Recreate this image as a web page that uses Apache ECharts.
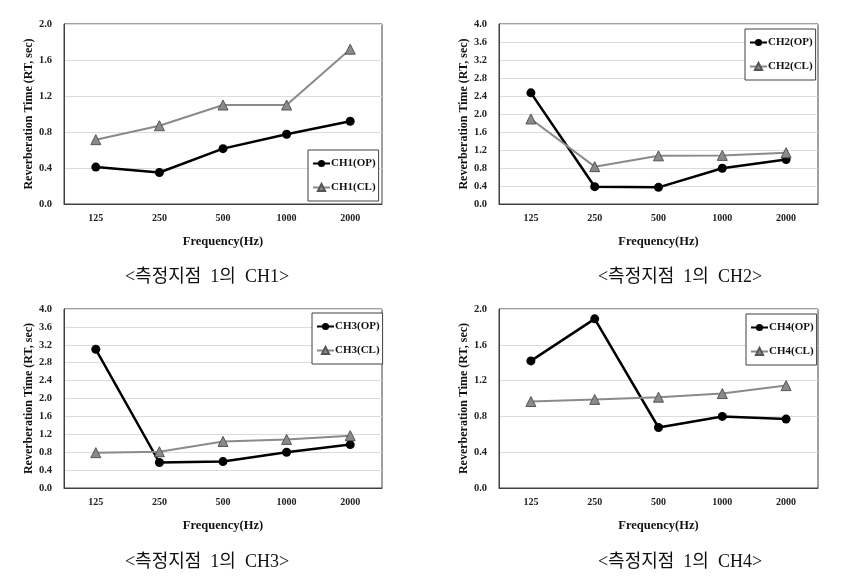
<!DOCTYPE html>
<html><head><meta charset="utf-8">
<script src="https://cdn.jsdelivr.net/npm/echarts@6/dist/echarts.min.js"></script>
<style>html,body{margin:0;padding:0;background:#fff}#c{width:841px;height:580px}</style>
</head><body><div id="c"></div>
<script>
const categories = ['125', '250', '500', '1000', '2000'];
const ch1OP = [0.41, 0.35, 0.615, 0.775, 0.92];
const ch1CL = [0.715, 0.87, 1.10, 1.10, 1.72];
const ch2OP = [2.47, 0.385, 0.37, 0.795, 0.99];
const ch2CL = [1.89, 0.83, 1.07, 1.08, 1.14];
const ch3OP = [3.10, 0.57, 0.59, 0.80, 0.97];
const ch3CL = [0.79, 0.81, 1.04, 1.085, 1.17];
const ch4OP = [1.42, 1.89, 0.676, 0.80, 0.77];
const ch4CL = [0.966, 0.99, 1.015, 1.055, 1.144];
const yMax = [2.0, 4.0, 4.0, 2.0];
const yInterval = 0.4;
const seriesNames = [['CH1(OP)', 'CH1(CL)'], ['CH2(OP)', 'CH2(CL)'], ['CH3(OP)', 'CH3(CL)'], ['CH4(OP)', 'CH4(CL)']];
const captions = ['<측정지점  1의  CH1>', '<측정지점  1의  CH2>', '<측정지점  1의  CH3>', '<측정지점  1의  CH4>'];
const xName = 'Frequency(Hz)';
const yName = 'Reverberation Time (RT, sec)';

const opData = [ch1OP, ch2OP, ch3OP, ch4OP];
const clData = [ch1CL, ch2CL, ch3CL, ch4CL];

const grids = [
  {left: 64, top: 24, width: 318, height: 180},
  {left: 499, top: 24, width: 319, height: 180},
  {left: 64, top: 309, width: 318, height: 179},
  {left: 499, top: 309, width: 319, height: 179}
];
const legendPos = [
  {left: 308, top: 150},
  {left: 745, top: 29},
  {left: 312, top: 313},
  {left: 746, top: 314}
];
const captionPos = [
  {x: 207, y: 277}, {x: 680, y: 277}, {x: 207, y: 562}, {x: 680, y: 562}
];
const serif = '"Liberation Serif", "Times New Roman", serif';

const chart = echarts.init(document.getElementById('c'), null, {renderer: 'canvas'});
const option = {
  animation: false,
  backgroundColor: '#fff',
  grid: grids.map(g => Object.assign({show: true, borderColor: '#404040', borderWidth: 1, backgroundColor: 'transparent'}, g)),
  xAxis: grids.map((g, i) => ({
    type: 'category', gridIndex: i, data: categories, boundaryGap: true,
    axisLine: {show: true, lineStyle: {color: '#404040', width: 1}},
    axisTick: {show: false},
    axisLabel: {fontFamily: serif, fontWeight: 'bold', fontSize: 10, color: '#222', margin: 9},
    name: xName, nameLocation: 'middle', nameGap: 31,
    nameTextStyle: {fontFamily: serif, fontWeight: 'bold', fontSize: 12.5, color: '#111'}
  })),
  yAxis: grids.map((g, i) => ({
    type: 'value', gridIndex: i, min: 0, max: yMax[i], interval: yInterval,
    axisLine: {show: true, lineStyle: {color: '#404040', width: 1}},
    axisTick: {show: false},
    splitLine: {show: true, lineStyle: {color: '#dcdcdc', width: 1}},
    axisLabel: {fontFamily: serif, fontWeight: 'bold', fontSize: 10.5, color: '#222', margin: 12,
      formatter: v => v.toFixed(1)},
    name: yName, nameLocation: 'middle', nameGap: 24, nameRotate: 90,
    nameTextStyle: {fontFamily: serif, fontWeight: 'bold', fontSize: 12, color: '#111'}
  })),
  legend: legendPos.map((p, i) => ({
    left: p.left, top: p.top, orient: 'vertical',
    data: seriesNames[i],
    borderColor: '#404040', borderWidth: 1, padding: [8, 3, 8, 4],
    itemGap: 13, itemWidth: 17, itemHeight: 9,
    textStyle: {fontFamily: serif, fontWeight: 'bold', fontSize: 11, color: '#111', padding: [0, 0, 0, -4]},
    backgroundColor: '#fff'
  })),
  title: captions.map((t, i) => ({
    text: t, left: captionPos[i].x, top: captionPos[i].y, textAlign: 'center', textVerticalAlign: 'middle',
    padding: 0,
    textStyle: {fontFamily: '"Liberation Serif", "Noto Sans CJK KR", serif', fontWeight: 'normal', fontSize: 18, color: '#111'}
  })),
  series: []
};
for (let i = 0; i < 4; i++) {
  option.series.push({
    type: 'line', name: seriesNames[i][0], xAxisIndex: i, yAxisIndex: i, data: opData[i],
    symbol: 'circle', symbolSize: 9,
    lineStyle: {color: '#000', width: 2.5},
    itemStyle: {color: '#000'}
  });
  option.series.push({
    type: 'line', name: seriesNames[i][1], xAxisIndex: i, yAxisIndex: i, data: clData[i],
    symbol: 'triangle', symbolSize: 10,
    lineStyle: {color: '#8a8a8a', width: 2},
    itemStyle: {color: '#8a8a8a', borderColor: '#555', borderWidth: 1}
  });
}
chart.setOption(option);
</script>
</body></html>
